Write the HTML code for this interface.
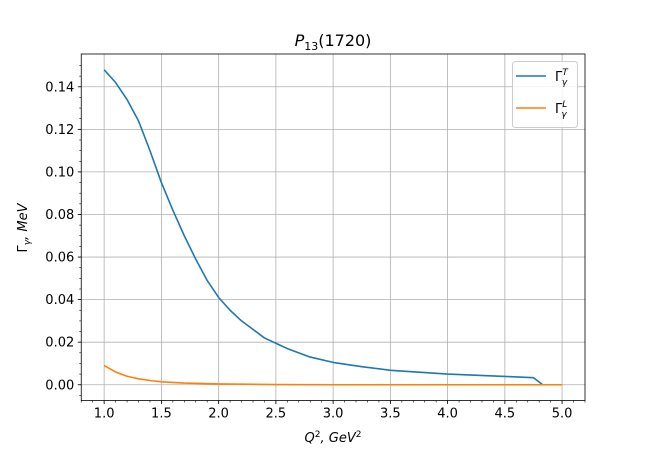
<!DOCTYPE html>
<html><head><meta charset="utf-8"><style>
body{margin:0;background:#fff}
svg text{font-family:"DejaVu Sans","Liberation Sans",sans-serif;fill:#000}
</style></head><body>
<svg id="c" width="650" height="450" xmlns="http://www.w3.org/2000/svg"></svg>
<script>
const xT=[1.0,1.1,1.2,1.3,1.4,1.5,1.6,1.7,1.8,1.9,2.0,2.1,2.2,2.3,2.4,2.5,2.6,2.7,2.8,3.0,3.25,3.5,4.0,4.5,4.75,4.83,5.0];
const yT=[0.148,0.142,0.134,0.124,0.110,0.095,0.082,0.070,0.059,0.049,0.041,0.035,0.030,0.026,0.022,0.0195,0.017,0.015,0.013,0.0105,0.0085,0.0068,0.0050,0.0039,0.0033,0.0,0.0];
const xL=[1.0,1.1,1.2,1.3,1.4,1.5,1.7,2.0,2.5,3.0,5.0];
const yL=[0.009,0.006,0.004,0.0028,0.002,0.0014,0.0008,0.0004,0.0001,0,0];
const xTicks=[1.0,1.5,2.0,2.5,3.0,3.5,4.0,4.5,5.0];
const yTicks=[0,0.02,0.04,0.06,0.08,0.10,0.12,0.14];
const L=81.25,R=585,T=54,B=400.5,x0=0.8,x1=5.2,y0=-0.0074,y1=0.1554;
const X=v=>L+(v-x0)/(x1-x0)*(R-L), Y=v=>B-(v-y0)/(y1-y0)*(B-T);
const s=document.getElementById('c'),NS='http://www.w3.org/2000/svg';
function mk(t,a,p){const e=document.createElementNS(NS,t);for(const k in a)e.setAttribute(k,a[k]);(p||s).appendChild(e);return e;}
const g=mk('g',{});


xTicks.forEach(v=>{mk('line',{x1:X(v),x2:X(v),y1:T,y2:B,stroke:'#b0b0b0','stroke-width':0.8},g);});
yTicks.forEach(v=>{mk('line',{x1:L,x2:R,y1:Y(v),y2:Y(v),stroke:'#b0b0b0','stroke-width':0.8},g);});
const ax=mk('g',{});


for(let v=0.8;v<=5.2001;v+=0.1){mk('line',{x1:X(v),x2:X(v),y1:B,y2:B+2,stroke:'#000','stroke-width':0.6},ax);}
for(let v=-0.005;v<=0.155;v+=0.005){mk('line',{x1:L,x2:L-2,y1:Y(v),y2:Y(v),stroke:'#000','stroke-width':0.6},ax);}
xTicks.forEach(v=>{mk('line',{x1:X(v),x2:X(v),y1:B,y2:B+3.5,stroke:'#000','stroke-width':0.8},ax);
 const t=mk('text',{x:X(v),y:B+17,'text-anchor':'middle','font-size':13},ax);t.textContent=v.toFixed(1);
 });
yTicks.forEach(v=>{mk('line',{x1:L,x2:L-3.5,y1:Y(v),y2:Y(v),stroke:'#000','stroke-width':0.8},ax);
 const t=mk('text',{x:L-7,y:Y(v)+4.5,'text-anchor':'end','font-size':13},ax);t.textContent=v.toFixed(2);
 });
function line(xs,ys,c,n){const p=mk('polyline',{points:xs.map((x,i)=>X(x)+','+Y(ys[i])).join(' '),fill:'none',stroke:c,'stroke-width':1.6,'stroke-linejoin':'round'});
 }
line(xT,yT,'#1f77b4','series-gamma-t');
line(xL,yL,'#ff7f0e','series-gamma-l');
mk('rect',{x:L,y:T,width:R-L,height:B-T,fill:'none',stroke:'#000','stroke-width':0.8},ax);
</script>
<svg width="650" height="450" style="position:absolute;left:0;top:0" xmlns="http://www.w3.org/2000/svg">
<text x="333" y="46" text-anchor="middle" font-size="16"><tspan font-style="italic">P</tspan><tspan font-size="11" dy="4">13</tspan><tspan dy="-4">(1720)</tspan></text>
<text x="333" y="442" text-anchor="middle" font-size="13"><tspan font-style="italic">Q</tspan><tspan font-size="9" dy="-5">2</tspan><tspan dy="5" font-style="italic">, GeV</tspan><tspan font-size="9" dy="-5">2</tspan></text>
<text transform="translate(27,228) rotate(-90)" text-anchor="middle" font-size="13">Γ<tspan font-size="9" dy="3" font-style="italic">γ</tspan><tspan dy="-3" font-style="italic">, MeV</tspan></text>
<g>
<rect x="512.5" y="61.5" width="65" height="66" rx="3" fill="#fff" fill-opacity="0.8" stroke="#ccc"/>
<line x1="516" x2="546" y1="76" y2="76" stroke="#1f77b4" stroke-width="1.6"/>
<text x="555" y="81" font-size="13">Γ<tspan font-size="9" dy="-6" font-style="italic">T</tspan><tspan font-size="9" dx="-6" dy="10" font-style="italic">γ</tspan></text>
<line x1="516" x2="546" y1="108" y2="108" stroke="#ff7f0e" stroke-width="1.6"/>
<text x="555" y="113" font-size="13">Γ<tspan font-size="9" dy="-6" font-style="italic">L</tspan><tspan font-size="9" dx="-6" dy="10" font-style="italic">γ</tspan></text>
</g>
</svg>
</body></html>
